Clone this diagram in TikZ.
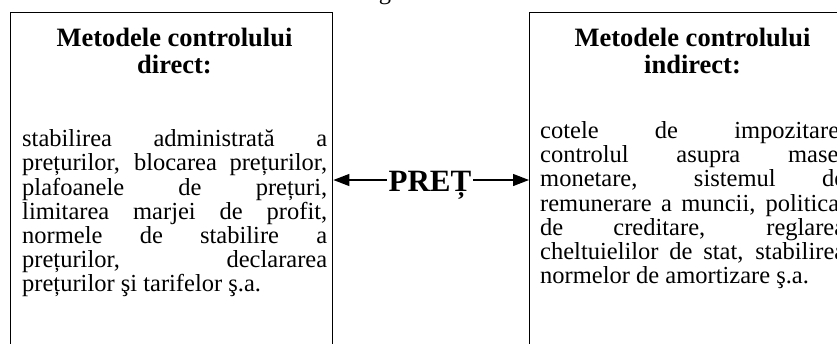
\documentclass[tikz,border=0pt]{standalone}
\usepackage{fontspec}
\setmainfont{Liberation Serif}
\usetikzlibrary{arrows.meta}
\begin{document}
\begin{tikzpicture}[x=1pt,y=-1pt,
  box/.style={draw, line width=1.4pt, minimum width=322pt, minimum height=360pt, anchor=north west, inner sep=0pt},
  head/.style={font=\fontsize{26.5}{26.5}\selectfont\bfseries, inner sep=0pt, anchor=base},
  bodyline/.style={font=\fontsize{24.5}{24.2}\selectfont, inner sep=0pt, anchor=base west},
  conn/.style={line width=1.3pt, -{Triangle[length=16pt,width=12pt]}}]
\useasboundingbox (0,0) rectangle (837,343);
\clip (0,0) rectangle (837,343);
% fragment of a title line above
\node[bodyline, anchor=base] (titlefrag) at (385,-1) {g};
% boxes
\node[box] (lbox) at (10,12) {};
\node[box] (rbox) at (529,12) {};
% headings
\node[head] (lh1) at (174.5,46.7) {Metodele controlului};
\node[head] (lh2) at (174.5,73.2) {direct:};
\node[head] (rh1) at (692.5,46.7) {Metodele controlului};
\node[head] (rh2) at (692.5,73.2) {indirect:};
% left body
\foreach \t [count=\i] in {{stabilirea administrată a},{prețurilor, blocarea prețurilor,},{plafoanele de prețuri,},{limitarea marjei de profit,},{normele de stabilire a},{prețurilor, declararea}}
  \node[bodyline] (L\i) at (22,{146.7+24.2*(\i-1)}) {\makebox[305pt][s]{\t}};
\node[bodyline] (L7) at (22,{146.7+24.2*6}) {prețurilor şi tarifelor ş.a.};
% right body
\foreach \t [count=\i] in {{cotele de impozitare,},{controlul asupra masei},{monetare, sistemul de},{remunerare a muncii, politica,},{de creditare, reglarea},{cheltuielilor de stat, stabilirea}}
  \node[bodyline] (R\i) at (540,{138.5+24.2*(\i-1)}) {\makebox[305pt][s]{\t}};
\node[bodyline] (R7) at (540,{138.5+24.2*6}) {normelor de amortizare ş.a.};
% centre label and arrows
\node[font=\fontsize{31}{31}\selectfont\bfseries, inner sep=1.5pt, anchor=base] (pret) at (430,191.7) {PREȚ};
\coordinate (ay) at (0,180);
\draw[conn] (pret.west |- ay) -- (lbox.east |- ay);
\draw[conn] (pret.east |- ay) -- (rbox.west |- ay);
\end{tikzpicture}
\end{document}
